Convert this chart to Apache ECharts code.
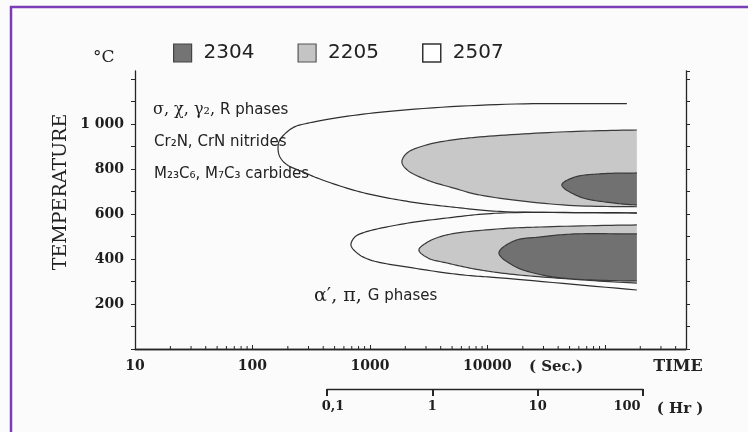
<!DOCTYPE html>
<html>
<head>
<meta charset="utf-8">
<script src="https://cdn.jsdelivr.net/npm/echarts@6/dist/echarts.min.js"></script>
<style>
  html, body { margin: 0; padding: 0; background: #fbfbfb; }
  #chart { width: 748px; height: 432px; }
</style>
</head>
<body>
<div id="chart"></div>
<script>
// ---- axis ticks ----
const secTickLabels = ['10', '100', '1000', '10000'];
const hourTickValues = [0.1, 1, 10, 100];
const hourTickLabels = ['0,1', '1', '10', '100'];
const tempTickValues = [200, 400, 600, 800, 1000];
const tempTickLabels = ['200', '400', '600', '800', '1 000'];
const minorMantissas = [2, 3, 4, 5, 6, 7, 8, 9];
const legendNames = ['2304', '2205', '2507'];

// ---- precipitation C-curves: [time (s), temperature (°C)] ----
// upper nose: sigma / chi / nitrides / carbides, lower nose: alpha' / pi / G
const upper2507 = [[153800,1090],[12000,1086],[1080,1049],[308,1005],[221,983],[171,929],[165,893],[171,854],[197,818],[269,787],[354,760],[822,698],[2190,654],[5830,627],[12770,611],[187000,605]];
const lower2507 = [[187000,604],[12770,604],[4520,582],[1700,551],[871,516],[745,498],[689,462],[775,427],[1000,396],[2320,360],[6180,329],[12770,316],[187000,262]];
const upper2205 = [[187000,973],[41400,964],[8630,942],[5080,929],[3050,907],[2070,871],[1870,831],[2070,796],[3050,751],[5080,716],[8630,684],[43900,640],[187000,632]];
const lower2205 = [[187000,551],[28000,542],[12050,533],[4520,507],[3120,476],[2610,440],[3120,404],[4520,382],[7670,356],[15500,333],[50400,311],[187000,293]];
const upper2304 = [[187000,782],[90600,778],[55600,764],[43000,729],[61200,676],[117000,649],[187000,640]];
const lower2304 = [[187000,511],[54500,511],[28500,498],[16800,480],[12530,427],[16800,369],[28500,330],[54500,311],[187000,302]];

const TIME_MIN = 10, TIME_MAX = 490000;
const TEMP_MIN = 0, TEMP_MAX = 1235;

const INK = '#262626';
const SERIF = 'DejaVu Serif';
const SANS = 'DejaVu Sans';

const gradeCurves = {
  '2304': [upper2304, lower2304],
  '2205': [upper2205, lower2205],
  '2507': [upper2507, lower2507]
};
const gradeFill = { '2304': '#717171', '2205': '#c8c8c8', '2507': '#ffffff' };

// centripetal Catmull-Rom through pixel points (open curve)
function spline(pts, steps) {
  if (pts.length < 3) return pts.slice();
  const out = [pts[0]];
  const P = [[2 * pts[0][0] - pts[1][0], 2 * pts[0][1] - pts[1][1]]].concat(pts, [[
    2 * pts[pts.length - 1][0] - pts[pts.length - 2][0],
    2 * pts[pts.length - 1][1] - pts[pts.length - 2][1]]]);
  const knot = (a, b) => Math.max(Math.sqrt(Math.hypot(b[0] - a[0], b[1] - a[1])), 1e-4);
  const lerp = (a, b, ta, tb, t) => {
    const u = (t - ta) / (tb - ta);
    return [a[0] + (b[0] - a[0]) * u, a[1] + (b[1] - a[1]) * u];
  };
  for (let i = 1; i < P.length - 2; i++) {
    const p0 = P[i - 1], p1 = P[i], p2 = P[i + 1], p3 = P[i + 2];
    const t0 = 0, t1 = t0 + knot(p0, p1), t2 = t1 + knot(p1, p2), t3 = t2 + knot(p2, p3);
    for (let s = 1; s <= steps; s++) {
      const t = t1 + (t2 - t1) * s / steps;
      const a1 = lerp(p0, p1, t0, t1, t), a2 = lerp(p1, p2, t1, t2, t), a3 = lerp(p2, p3, t2, t3, t);
      const b1 = lerp(a1, a2, t0, t2, t), b2 = lerp(a2, a3, t1, t3, t);
      out.push(lerp(b1, b2, t1, t2, t));
    }
  }
  return out;
}

// filled region: curve is open at the long-time end, cut by a vertical edge
function filledRegion(name) {
  const curves = gradeCurves[name];
  return function (params, api) {
    const pts = curves[api.value(2)].map(p => api.coord(p));
    const cs = params.coordSys;
    const first = pts[0], last = pts[pts.length - 1];
    const edge = Math.max(first[0], last[0]);
    const ext = [[first[0] + 40, first[1]]].concat(pts, [[last[0] + 40, last[1]]]);
    const dense = spline(ext, 14);
    const clipRect = () => ({ type: 'rect', shape: { x: cs.x, y: cs.y, width: edge - cs.x, height: cs.height } });
    return {
      type: 'group',
      children: [
        { type: 'polygon', shape: { points: dense }, style: { fill: gradeFill[name], stroke: null }, clipPath: clipRect() },
        { type: 'polyline', shape: { points: dense }, style: { fill: null, stroke: '#3a3a3a', lineWidth: 1.2 }, clipPath: clipRect() }
      ]
    };
  };
}

// outline-only region (open curve)
function outlineRegion(name) {
  const curves = gradeCurves[name];
  return function (params, api) {
    const pts = curves[api.value(2)].map(p => api.coord(p));
    return { type: 'polyline', shape: { points: spline(pts, 14) }, style: { fill: null, stroke: '#2e2e2e', lineWidth: 1.2 } };
  };
}

function regionData(name) {
  return gradeCurves[name].map((c, i) => [c[0][0], c[0][1], i]);
}

// minor log ticks on the time axis
const minorTicks = [];
for (let k = 1; k <= 5; k++) {
  minorMantissas.forEach(m => {
    const t = m * Math.pow(10, k);
    if (t < TIME_MAX) minorTicks.push([t, 0]);
  });
}

function sameLog(a, b) { return Math.abs(Math.log10(a) - Math.log10(b)) < 1e-6; }

const hourLabelFont = { fontFamily: SERIF, fontWeight: 'bold', fontSize: 13, color: '#1e1e1e' };

const chart = echarts.init(document.getElementById('chart'));
chart.setOption({
  backgroundColor: '#fbfbfb',
  animation: false,
  grid: [
    { left: 135, top: 71, width: 551, height: 278 },
    { left: 327, top: 388, width: 316, height: 1 }
  ],
  legend: {
    left: 168, top: 38,
    itemWidth: 18, itemHeight: 18, itemGap: 43,
    selectedMode: false,
    data: [
      { name: legendNames[0], icon: 'rect', itemStyle: { color: '#747474', borderColor: '#444', borderWidth: 1.2 } },
      { name: legendNames[1], icon: 'rect', itemStyle: { color: '#c4c4c4', borderColor: '#555', borderWidth: 1.2 } },
      { name: legendNames[2], icon: 'rect', itemStyle: { color: '#ffffff', borderColor: '#333', borderWidth: 1.5 } }
    ],
    textStyle: { fontFamily: SANS, fontSize: 20, color: '#222', padding: [0, 0, 0, 7] }
  },
  xAxis: [
    {
      type: 'log', gridIndex: 0, position: 'bottom', min: TIME_MIN, max: TIME_MAX, logBase: 10,
      axisLine: { lineStyle: { color: INK, width: 1.3 } },
      axisTick: { inside: true, length: 4, lineStyle: { color: INK } },
      splitLine: { show: false },
      axisLabel: {
        margin: 10, color: '#1e1e1e', fontFamily: SERIF, fontWeight: 'bold', fontSize: 14,
        showMaxLabel: false,
        formatter: v => { const s = String(Math.round(v)); return secTickLabels.includes(s) ? s : ''; }
      }
    },
    {
      type: 'log', gridIndex: 0, position: 'top', min: TIME_MIN, max: TIME_MAX, logBase: 10,
      axisLine: { lineStyle: { color: INK, width: 1.3 } },
      axisTick: { show: false }, axisLabel: { show: false }, splitLine: { show: false }
    },
    {
      type: 'log', gridIndex: 1, position: 'bottom', min: 0.1, max: 100, logBase: 10,
      axisLine: { lineStyle: { color: INK, width: 1.3 } },
      axisTick: { inside: false, length: 7, lineStyle: { color: INK, width: 2 } },
      splitLine: { show: false },
      axisLabel: Object.assign({
        margin: 11,
        formatter: v => {
          const i = hourTickValues.findIndex(h => sameLog(h, v));
          if (i < 0) return '';
          if (i === 0) return '{first|' + hourTickLabels[i] + '}';
          if (i === hourTickValues.length - 1) return '{last|' + hourTickLabels[i] + '}';
          return hourTickLabels[i];
        },
        rich: {
          first: Object.assign({ padding: [0, 0, 0, 12] }, hourLabelFont),
          last: Object.assign({ padding: [0, 32, 0, 0] }, hourLabelFont)
        }
      }, hourLabelFont)
    }
  ],
  yAxis: [
    {
      type: 'value', gridIndex: 0, position: 'left', min: TEMP_MIN, max: TEMP_MAX, interval: 100,
      axisLine: { show: true, lineStyle: { color: INK, width: 1.3 } },
      axisTick: { show: true, length: 4, lineStyle: { color: INK } },
      splitLine: { show: false },
      axisLabel: {
        margin: 11, color: '#1e1e1e', fontFamily: SERIF, fontWeight: 'bold', fontSize: 14,
        showMaxLabel: false,
        formatter: v => { const i = tempTickValues.indexOf(v); return i >= 0 ? tempTickLabels[i] : ''; }
      }
    },
    {
      type: 'value', gridIndex: 0, position: 'right', min: TEMP_MIN, max: TEMP_MAX, interval: 100,
      axisLine: { show: true, lineStyle: { color: INK, width: 1.3 } },
      axisTick: { show: true, length: 4, lineStyle: { color: INK } },
      axisLabel: { show: false }, splitLine: { show: false }
    },
    { type: 'value', gridIndex: 1, show: false, min: 0, max: 1 }
  ],
  series: [
    {
      name: legendNames[2], type: 'custom', xAxisIndex: 0, yAxisIndex: 0,
      itemStyle: { color: '#ffffff' },
      renderItem: outlineRegion('2507'), data: regionData('2507'), z: 2
    },
    {
      name: legendNames[1], type: 'custom', xAxisIndex: 0, yAxisIndex: 0,
      itemStyle: { color: gradeFill['2205'] },
      renderItem: filledRegion('2205'), data: regionData('2205'), z: 3
    },
    {
      name: legendNames[0], type: 'custom', xAxisIndex: 0, yAxisIndex: 0,
      itemStyle: { color: gradeFill['2304'] },
      renderItem: filledRegion('2304'), data: regionData('2304'), z: 4
    },
    {
      name: 'minor ticks', type: 'custom', xAxisIndex: 0, yAxisIndex: 0, silent: true,
      renderItem: (params, api) => {
        const p = api.coord([api.value(0), TEMP_MIN]);
        return { type: 'line', shape: { x1: p[0], y1: p[1], x2: p[0], y2: p[1] - 3 }, style: { stroke: INK, lineWidth: 1 } };
      },
      data: minorTicks, z: 5
    }
  ],
  graphic: [
    { type: 'polyline', shape: { points: [[11, 432], [11, 7], [748, 7]] }, style: { stroke: '#7b3db6', lineWidth: 2.5, fill: null } },
    { type: 'text', x: 93, y: 58, style: { text: '°C', font: '17px "DejaVu Serif"', fill: '#222', align: 'left', verticalAlign: 'middle' } },
    { type: 'text', x: 61, y: 192, rotation: Math.PI / 2,
      style: { text: 'TEMPERATURE', font: '19px "DejaVu Serif"', fill: '#222', align: 'center', verticalAlign: 'middle' } },
    { type: 'text', x: 678, y: 367, style: { text: 'TIME', font: 'bold 16px "DejaVu Serif"', fill: '#222', align: 'center', verticalAlign: 'middle' } },
    { type: 'text', x: 556, y: 367, style: { text: '( Sec.)', font: 'bold 15px "DejaVu Serif"', fill: '#222', align: 'center', verticalAlign: 'middle' } },
    { type: 'text', x: 680, y: 409, style: { text: '( Hr )', font: 'bold 15px "DejaVu Serif"', fill: '#222', align: 'center', verticalAlign: 'middle' } },
    { type: 'text', x: 153, y: 110,
      style: { text: '{g|σ, χ, γ₂, }{s|R phases}', align: 'left', verticalAlign: 'middle',
        rich: { g: { fontFamily: SERIF, fontSize: 16, fill: '#222', color: '#222' }, s: { fontFamily: SANS, fontSize: 15, color: '#222', fill: '#222' } } } },
    { type: 'text', x: 154, y: 142, style: { text: 'Cr₂N, CrN nitrides', font: '15px "DejaVu Sans"', fill: '#222', align: 'left', verticalAlign: 'middle' } },
    { type: 'text', x: 154, y: 174, style: { text: 'M₂₃C₆, M₇C₃ carbides', font: '15px "DejaVu Sans"', fill: '#222', align: 'left', verticalAlign: 'middle' } },
    { type: 'text', x: 314, y: 296,
      style: { text: '{g|α′, π, }{s|G phases}', align: 'left', verticalAlign: 'middle',
        rich: { g: { fontFamily: SERIF, fontSize: 19, color: '#222', fill: '#222' }, s: { fontFamily: SANS, fontSize: 15, color: '#222', fill: '#222' } } } }
  ]
});
</script>
</body>
</html>
